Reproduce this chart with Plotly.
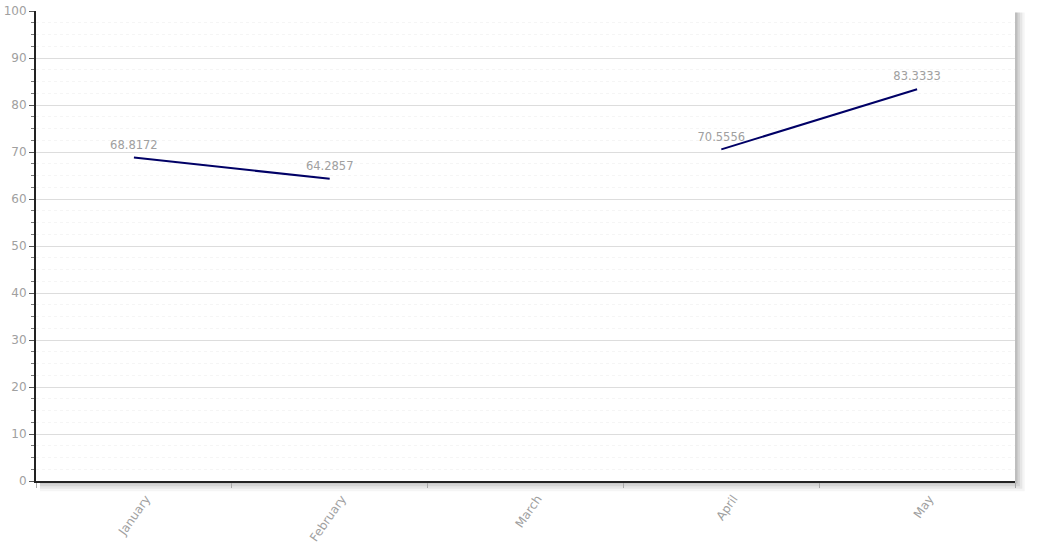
import plotly.graph_objects as go

months = ['January', 'February', 'March', 'April', 'May']
values = [68.8172, 64.2857, None, 70.5556, 83.3333]
labels = ['68.8172', '64.2857', '', '70.5556', '83.3333']

fig = go.Figure()
fig.add_trace(go.Scatter(
    x=months, y=values, mode='lines+markers+text', text=labels,
    textposition='top center', textfont=dict(color='#a0a0a0', size=11.5),
    marker=dict(size=8, opacity=0),
    line=dict(color='#000066', width=2), connectgaps=False, cliponaxis=False))

# shadow behind plot area, then white plot area
shapes = []
for i, a in enumerate([0.10, 0.08, 0.06, 0.04]):
    d = i + 1
    shapes.append(dict(type='rect', xref='paper', yref='paper', layer='below',
                       x0=0.004, x1=1.0 + d * 0.0025, y0=-d * 0.0055, y1=1.0 - 0.003,
                       line=dict(width=0), fillcolor='rgba(0,0,0,%.2f)' % a))
shapes.append(dict(type='rect', xref='paper', yref='paper', layer='below',
                   x0=0, x1=1, y0=0, y1=1, line=dict(width=0), fillcolor='white'))

fig.update_layout(
    width=1045, height=546, margin=dict(l=36, r=30, t=11, b=65),
    paper_bgcolor='white', plot_bgcolor='rgba(0,0,0,0)', showlegend=False,
    font=dict(family='DejaVu Sans, Verdana, sans-serif', color='#a0a0a0', size=12),
    shapes=shapes,
    xaxis=dict(type='category', range=[-0.5, 4.5], showgrid=False, tickson='boundaries',
               ticks='outside', ticklen=5, tickcolor='#aaaaaa', tickangle=-55,
               ticklabelshift=12, ticklabelstandoff=4,
               showline=True, linecolor='#222222', linewidth=2, zeroline=False,
               automargin=False),
    yaxis=dict(range=[0, 100], dtick=10, showgrid=True, gridcolor='#dddddd', gridwidth=1,
               ticks='outside', ticklen=5, tickcolor='#555555', zeroline=False,
               showline=True, linecolor='#222222', linewidth=2, automargin=False,
               minor=dict(dtick=2.5, ticks='outside', ticklen=3, tickcolor='#777777',
                          showgrid=True, gridcolor='#f5f5f5', griddash='dot')))

fig.write_html("out.html", config={'displayModeBar': False},
               post_script="document.body.style.margin='0';")
